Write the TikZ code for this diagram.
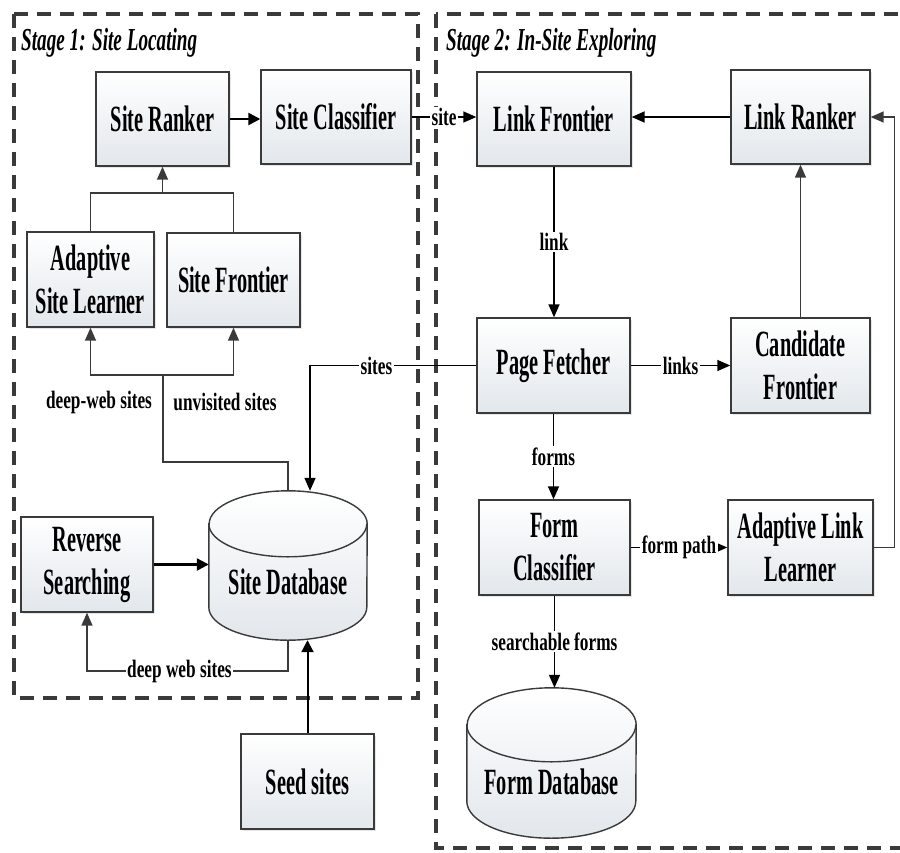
\documentclass[tikz,border=0pt]{standalone}
\usepackage{fontspec}
\setmainfont{Liberation Serif}[FakeStretch=0.55]
\newfontfamily\lblfont{Liberation Serif}[FakeStretch=0.69]
\newfontfamily\ttlfont{Liberation Serif}[FakeStretch=0.6]
\usetikzlibrary{calc, positioning, arrows.meta, shadows}

\definecolor{boxbot}{HTML}{E2E7EC}
\definecolor{edge}{HTML}{3A3A3A}

\tikzset{
  blk/.style={draw=edge, line width=1.4pt, top color=white, bottom color=boxbot,
    drop shadow={shadow xshift=2pt, shadow yshift=-2pt, opacity=.2},
    align=center, inner sep=0pt, font=\fontsize{37}{43}\selectfont\bfseries},
  dbase/.style={inner sep=0pt, draw=none},
  dbtxt/.style={inner sep=0pt, font=\fontsize{37}{43}\selectfont\bfseries},
  lbl/.style={fill=white, inner sep=1.5pt, font=\lblfont\fontsize{25}{28}\selectfont\bfseries},
  ttl/.style={inner sep=0pt, anchor=west, font=\ttlfont\fontsize{32}{36}\selectfont\bfseries\itshape},
  wire/.style={draw=edge, line width=1.5pt},
  flow/.style={wire, -{Triangle[length=13pt, width=11pt]}},
  boldflow/.style={draw=black, line width=2.4pt, -{Triangle[length=12pt, width=12pt]}},
  frame/.style={draw=edge, line width=3.5pt, dash pattern=on 14pt off 9pt},
}

% cylinder outline round a node: name, x radius, y radius
\newcommand{\drawcyl}[3]{%
  \path[draw=edge, line width=1.4pt, top color=white, bottom color=boxbot]
    ($(#1.north west)+(0,-#3)$) -- ($(#1.south west)+(0,#3)$)
    arc[start angle=180, end angle=360, x radius=#2, y radius=#3]
    -- ($(#1.north east)+(0,-#3)$)
    arc[start angle=0, end angle=180, x radius=#2, y radius=#3] -- cycle;
  \draw[edge, line width=1.4pt] ($(#1.north west)+(0,-#3)$)
    arc[start angle=180, end angle=360, x radius=#2, y radius=#3];
}

\begin{document}
\begin{tikzpicture}[x=1pt, y=1pt]
  \useasboundingbox (0,0) rectangle (900,-852);

  \begin{scope}
    \draw[frame] (14,-14) rectangle (418,-698);
    \draw[frame] (436,-14) rectangle (914,-848);
    \node[ttl] (stageA) at (21,-43) {Stage 1: Site Locating};
    \node[ttl] (stageB) at (446,-43) {Stage 2: In-Site Exploring};
  \end{scope}

  \node[blk, minimum width=133pt, minimum height=94pt] (ranker) at (162.5,-119) {Site Ranker};
  \node[blk, minimum width=150pt, minimum height=94pt] (sclass) at (336,-117) {Site Classifier};
  \node[blk, minimum width=127pt, minimum height=95pt] (asl) at (90.5,-279.5) {Adaptive\\Site Learner};
  \node[blk, minimum width=133pt, minimum height=94pt] (sfront) at (233.5,-280) {Site Frontier};
  \node[blk, minimum width=132pt, minimum height=95pt] (rsearch) at (87,-564.5) {Reverse\\Searching};
  \node[blk, minimum width=133pt, minimum height=95pt] (seed) at (307.5,-781.5) {Seed sites};

  \node[blk, minimum width=154pt, minimum height=94pt] (lfront) at (554,-119) {Link Frontier};
  \node[blk, minimum width=139pt, minimum height=94pt] (lranker) at (800.5,-117) {Link Ranker};
  \node[blk, minimum width=153pt, minimum height=95pt] (pfetch) at (553.5,-365.5) {Page Fetcher};
  \node[blk, minimum width=139pt, minimum height=95pt] (cfront) at (800.5,-365.5) {Candidate\\Frontier};
  \node[blk, minimum width=151pt, minimum height=95pt] (fclass) at (554.5,-547.5) {Form\\Classifier};
  \node[blk, minimum width=145pt, minimum height=95pt] (alearn) at (800.5,-547.5) {Adaptive Link\\Learner};

  \node[dbase, minimum width=158pt, minimum height=149pt] (sdb) at (288,-565.5) {};
  \drawcyl{sdb}{79pt}{33pt}
  \node[dbtxt] (sdbname) at ([yshift=-16.5pt]sdb.center) {Site Database};
  \node[dbase, minimum width=169pt, minimum height=150pt] (fdb) at (551.5,-763) {};
  \drawcyl{fdb}{84.5pt}{37pt}
  \node[dbtxt] (fdbname) at ([yshift=-19pt]fdb.center) {Form Database};

  \coordinate (jr) at (162.5,-193);
  \coordinate (js) at (163,-375);

  \begin{scope}
    \draw[wire] (asl.north) |- (jr) -| (sfront.north);
    \draw[flow] (jr) -- (ranker.south);
    \draw[boldflow] (ranker.east) -- (ranker.east -| sclass.west);
    \draw[wire] (sdb.north) -- ++(0,29pt) -| (js);
    \draw[flow] (js) -| (asl.south);
    \draw[flow] (js) -| (sfront.south);
    \node[lbl, fill=none] (dwlabel) at ([xshift=-64pt, yshift=-27pt]js) {deep-web sites};
    \node[lbl, fill=none] (uvlabel) at ([xshift=62pt, yshift=-27pt]js) {unvisited sites};
    \draw[boldflow] (rsearch.east) -- (rsearch.east -| sdb.west);
    \draw[flow] (sdb.south) -- ++(0,-31pt) -| node[lbl, pos=0.27] {deep web sites} (rsearch.south);
    \draw[boldflow, line width=2pt] (seed.north) -- (seed.north |- sdb.south);
  \end{scope}

  \begin{scope}
    \draw[flow, draw=black] (sclass.east) -- node[lbl] {site} (sclass.east -| lfront.west);
    \draw[flow, draw=black, line width=2pt] (lranker.west) -- (lranker.west -| lfront.east);
    \draw[flow, draw=black] (lfront.south) -- node[lbl] {link} (lfront.south |- pfetch.north);
    \draw[flow, draw=black] (pfetch.east) -- node[lbl] {links} (pfetch.east -| cfront.west);
    \draw[flow] (cfront.north) -- (lranker.south);
    \draw[flow, draw=black] (pfetch.south) -- node[lbl] {forms} (pfetch.south |- fclass.north);
    \draw[flow, draw=black] (fclass.east) -- node[lbl] {form path} (fclass.east -| alearn.west);
    \draw[flow] (alearn.east) -- ++(21pt,0) |- (lranker.east);
    \draw[flow, draw=black] (fclass.south) -- node[lbl] {searchable forms} (fclass.south |- fdb.north);
    \draw[flow, draw=black] (pfetch.west) -| node[lbl, pos=0.3] {sites} ([xshift=22pt]sdb.north);
  \end{scope}
\end{tikzpicture}
\end{document}
